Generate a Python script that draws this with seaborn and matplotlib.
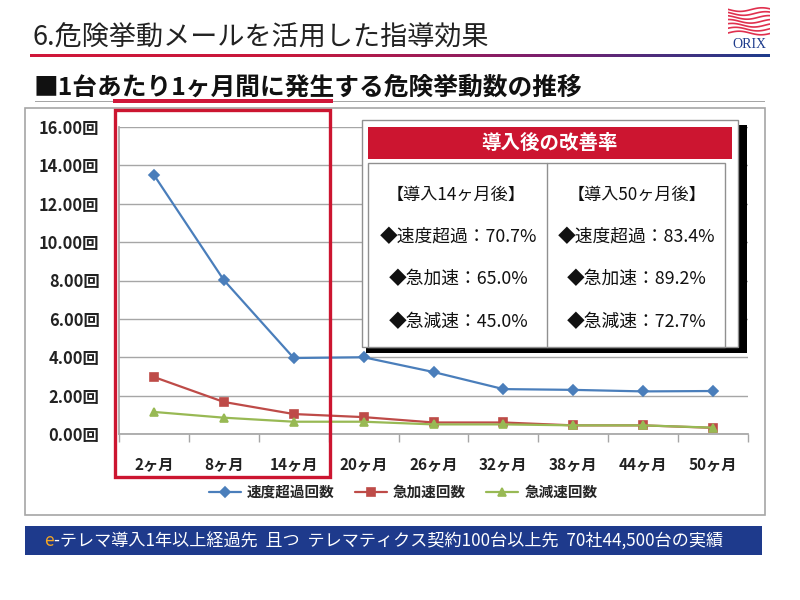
import matplotlib
matplotlib.use("Agg")
import matplotlib.pyplot as plt
from matplotlib.patches import Rectangle
from matplotlib.colors import LinearSegmentedColormap
from matplotlib.ticker import FixedLocator
import numpy as np
import pandas as pd
import seaborn as sns

# ======================
# データ
# ======================
months = ["2ヶ月", "8ヶ月", "14ヶ月", "20ヶ月", "26ヶ月", "32ヶ月", "38ヶ月", "44ヶ月", "50ヶ月"]
speed = [13.50, 8.02, 3.96, 4.00, 3.23, 2.34, 2.30, 2.22, 2.24]
accel = [2.97, 1.67, 1.04, 0.88, 0.60, 0.60, 0.45, 0.45, 0.32]
decel = [1.15, 0.85, 0.64, 0.64, 0.50, 0.50, 0.45, 0.45, 0.33]
series_names = ["速度超過回数", "急加速回数", "急減速回数"]
y_ticks = [0, 2, 4, 6, 8, 10, 12, 14, 16]

improve_14 = ["◆速度超過：70.7%", "◆急加速：65.0%", "◆急減速：45.0%"]
improve_50 = ["◆速度超過：83.4%", "◆急加速：89.2%", "◆急減速：72.7%"]

df = pd.DataFrame({"月": months, series_names[0]: speed,
                   series_names[1]: accel, series_names[2]: decel})
df_long = df.melt(id_vars="月", var_name="系列", value_name="回数")

sns.set_theme(style="white")
plt.rcParams["font.family"] = ["Noto Sans CJK JP", "DejaVu Sans"]

W, H = 800, 600
fig = plt.figure(figsize=(8, 6), dpi=100)


def fx(x):
    return x / W


def fy(y):
    return 1 - y / H


def frect(x0, y0, x1, y1, **kw):
    r = Rectangle((fx(x0), fy(y1)), fx(x1 - x0), (y1 - y0) / H,
                  transform=fig.transFigure, **kw)
    fig.patches.append(r)
    return r


# ======================
# タイトル部分
# ======================
fig.text(fx(32), fy(38), "6.危険挙動メールを活用した指導効果", fontsize=19.5,
         color="#222222", va="center", ha="left")

grad_ax = fig.add_axes([fx(30), fy(57), fx(740), 3.5 / H])
cmap = LinearSegmentedColormap.from_list(
    "bar", [(0, "#D0173A"), (0.35, "#C8183C"), (0.7, "#7A1F6E"), (1, "#1E3C8C")])
grad_ax.imshow(np.linspace(0, 1, 256)[None, :], aspect="auto", cmap=cmap)
grad_ax.set_axis_off()

# ORIX ロゴ
logo_ax = fig.add_axes([fx(728), fy(36), fx(42), 30 / H])
xs = np.linspace(0, 1, 50)
for i in range(7):
    logo_ax.plot(xs, 0.1 + i * 0.13 + 0.06 * np.sin(xs * 6 + i * 0.5),
                 color="#E0304E", lw=1.2)
logo_ax.set_xlim(0, 1)
logo_ax.set_ylim(0, 1)
logo_ax.set_axis_off()
fig.text(fx(749), fy(44), "ORIX", fontsize=10, color="#1E3C8C",
         ha="center", va="center", family="Liberation Serif")

fig.text(fx(34), fy(88), "■1台あたり1ヶ月間に発生する危険挙動数の推移",
         fontsize=17.8, fontweight="bold", color="#111111", va="center", ha="left")
frect(35, 100.5, 765, 102, color="#A6A6A6", lw=0)
frect(113, 99.5, 333, 103, color="#D0173A", lw=0)

# グラフ枠 (軸の後ろに)
frect(25, 108, 765, 515, facecolor="white", edgecolor="#A6A6A6", lw=1.2,
      zorder=-1)

# ======================
# 折れ線グラフ
# ======================
ax = fig.add_axes([fx(119), fy(434), fx(629), (434 - 127) / H])
palette = ["#4A7EBB", "#BE4B48", "#98B954"]
sns.pointplot(data=df_long, x="月", y="回数", hue="系列", order=months,
              hue_order=series_names, palette=palette, markers=["D", "s", "^"],
              linestyles=["-", "-", "-"], markersize=5.5, linewidth=1.6, ax=ax,
              errorbar=None)
ax.set_xlim(-0.5, 8.5)
ax.set_ylim(0, 16)
ax.set_yticks(y_ticks)
ax.set_yticklabels([f"{v:.2f}回" for v in y_ticks], fontsize=11.8,
                   fontweight="bold", color="#222222")
ax.set_xticks(range(len(months)))
ax.set_xticklabels(months, fontsize=11, fontweight="bold", color="#222222")
ax.xaxis.set_minor_locator(FixedLocator(np.arange(-0.5, 9, 1)))
ax.tick_params(axis="x", which="major", length=0, pad=16)
ax.tick_params(axis="x", which="minor", length=6, color="#A6A6A6", width=1,
               direction="out", bottom=True)
ax.tick_params(axis="y", length=0, pad=14)
ax.yaxis.grid(True, color="#A6A6A6", lw=1)
ax.set_axisbelow(True)
ax.set_xlabel("")
ax.set_ylabel("")
for s in ["top", "right"]:
    ax.spines[s].set_visible(False)
ax.spines["left"].set_color("#A6A6A6")
ax.spines["bottom"].set_color("#A6A6A6")
ax.patch.set_alpha(0)

handles, labels = ax.get_legend_handles_labels()
ax.get_legend().remove()
fig.legend(handles, labels, loc="center", bbox_to_anchor=(fx(403), fy(492)),
           ncol=3, frameon=False, prop={"size": 10.5, "weight": "bold"},
           handlelength=2.2, columnspacing=1.4, handletextpad=0.4)

# 赤枠
frect(115, 110, 330, 477, facecolor="none", edgecolor="#CC1530", lw=2.4, zorder=5)

# ======================
# 改善率ボックス
# ======================
frect(366, 125, 747, 353, facecolor="black", lw=0, zorder=5)
frect(362, 120, 738, 347, facecolor="white", edgecolor="#909090", lw=1, zorder=6)
frect(368, 127, 732, 159, facecolor="#CC1530", lw=0, zorder=7)
frect(368, 163, 725, 347, facecolor="white", edgecolor="#909090", lw=1, zorder=7)
fig.lines.append(plt.Line2D([fx(547), fx(547)], [fy(163), fy(347)],
                            transform=fig.transFigure, color="#909090", lw=1,
                            zorder=8))
fig.text(fx(550), fy(143), "導入後の改善率", fontsize=14, fontweight="bold",
         color="white", ha="center", va="center", zorder=9)
fig.text(fx(456), fy(195), "【導入14ヶ月後】", fontsize=12.3, ha="center",
         va="center", color="#111111", zorder=9)
fig.text(fx(637), fy(195), "【導入50ヶ月後】", fontsize=12.3, ha="center",
         va="center", color="#111111", zorder=9)
for i, (a, b) in enumerate(zip(improve_14, improve_50)):
    y = 237 + i * 42.5
    fig.text(fx(459), fy(y), a, fontsize=12.8, ha="center", va="center",
             color="#111111", zorder=9)
    fig.text(fx(637), fy(y), b, fontsize=12.8, ha="center", va="center",
             color="#111111", zorder=9)

# ======================
# 下部バナー
# ======================
frect(25, 526, 762, 555, facecolor="#1E3A8C", lw=0)
fig.text(fx(44), fy(541), "e", fontsize=12.5, color="#F5A623", ha="left",
         va="center")
fig.text(fx(54), fy(541),
         "-テレマ導入1年以上経過先  且つ  テレマティクス契約100台以上先  70社44,500台の実績",
         fontsize=12.3, color="white", ha="left", va="center")

fig.savefig("out.png", dpi=100)
